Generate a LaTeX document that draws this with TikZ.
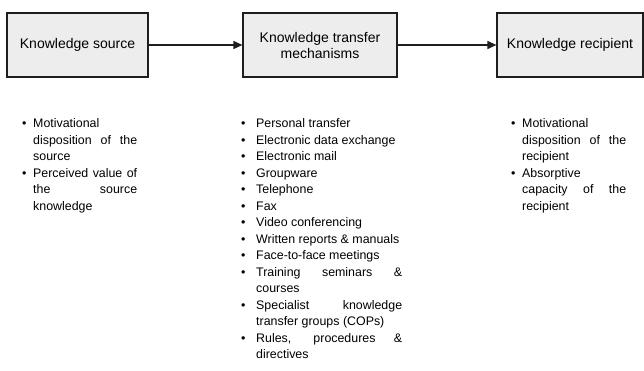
\documentclass[tikz,border=0pt]{standalone}
\usepackage{fontspec}
\setmainfont{Liberation Sans}
\usepackage{xcolor}
\definecolor{boxfill}{HTML}{EDEDED}
\definecolor{inkline}{HTML}{1E1E1E}
\usetikzlibrary{arrows.meta}

% bullet item with hanging indent
\newlength{\bulletind}
\newcommand{\kitem}[1]{\par\hangindent=\bulletind\hangafter=1\noindent
	\hbox to\bulletind{\textbullet\hfil}#1}

\begin{document}
\begin{tikzpicture}[x=1pt,y=-1pt]

\tikzstyle{box}=[
	draw=inkline,
	line width=1.2pt,
	fill=boxfill,
	minimum height=64pt,
	inner sep=0pt,
	align=center,
	font=\fontsize{14}{16}\selectfont
]
\tikzstyle{lst}=[
	anchor=north west,
	inner sep=0pt,
	align=justify,
	font=\fontsize{12.4}{16.5}\selectfont
]
\tikzstyle{arr}=[-{Triangle[length=9pt,width=8pt]}, line width=1.2pt, draw=inkline]

\useasboundingbox (0,0) rectangle (644,370);

% the three stages
\node[box, minimum width=141pt] (source) at (77.5,45) {Knowledge source};
\node[box, minimum width=154pt] (mech) at (320,45)
	{Knowledge transfer\\mechanisms};
\node[box, minimum width=146pt] (recip) at (570,45) {Knowledge recipient};

\draw[arr] (source) -> (mech);
\draw[arr] (mech) -> (recip);

% factors under each stage
\node[lst, text width=115pt] (srclist) at (22,111) {%
	\setlength{\bulletind}{11pt}%
	\kitem{Motivational\newline disposition of the\linebreak source}
	\kitem{Perceived value of\linebreak the source\linebreak knowledge}\par};

\node[lst, text width=161pt] (mechlist) at (241,111) {%
	\setlength{\bulletind}{15pt}%
	\kitem{Personal transfer}
	\kitem{Electronic data exchange}
	\kitem{Electronic mail}
	\kitem{Groupware}
	\kitem{Telephone}
	\kitem{Fax}
	\kitem{Video conferencing}
	\kitem{Written reports \& manuals}
	\kitem{Face-to-face meetings}
	\kitem{Training seminars \&\linebreak courses}
	\kitem{Specialist knowledge\linebreak transfer groups (COPs)}
	\kitem{Rules, procedures \&\linebreak directives}\par};

\node[lst, text width=115pt] (reclist) at (511,111) {%
	\setlength{\bulletind}{11pt}%
	\kitem{Motivational\newline disposition of the\linebreak recipient}
	\kitem{Absorptive\newline capacity of the\linebreak recipient}\par};

\end{tikzpicture}
\end{document}
